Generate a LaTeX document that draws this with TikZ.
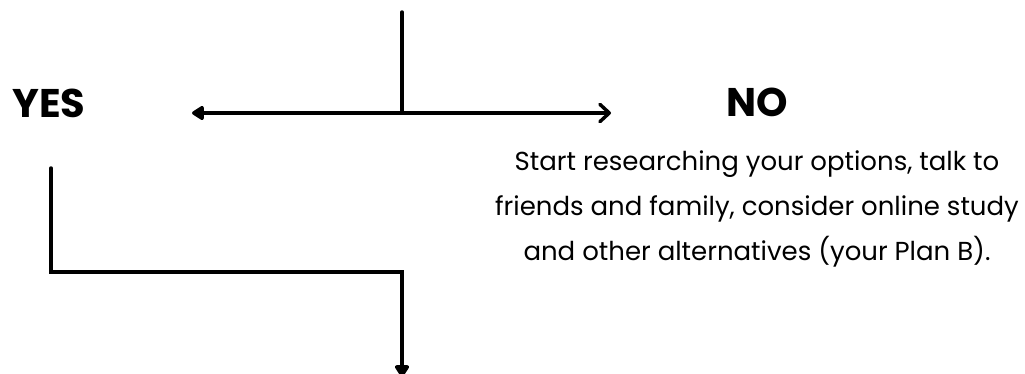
\documentclass[tikz,border=0pt]{standalone}
\usepackage{fontspec}
\setmainfont{Poppins}
\usetikzlibrary{arrows.meta}
\tikzset{
  conn/.style={line width=2.6pt, line cap=round, line join=miter},
  head/.style={font=\fontsize{30pt}{34pt}\selectfont\bfseries, inner sep=0pt},
  body/.style={font=\fontsize{19.5pt}{34pt}\selectfont, align=center, inner sep=0pt},
  filltip/.style={-{Triangle[length=10pt,width=12pt,round]}},
  opentip/.style={-{Straight Barb[length=7pt,width=13pt,round]}},
}
\begin{document}
\begin{tikzpicture}[x=0.75pt,y=-0.75pt]
\useasboundingbox (0,0) rectangle (1025,374);
\coordinate (top) at (402,12);
\coordinate (mid) at (402,113);
\coordinate (lefttip) at (192,113);
\coordinate (righttip) at (611,113);
\coordinate (yestop) at (51,168);
\coordinate (corner) at (402,272);
\coordinate (bottom) at (402,377);
\node[head, anchor=base west] (yes) at (12,118) {YES};
\node[head, anchor=base] (no) at (757,117) {NO};
\node[body, anchor=north] (desc) at (757,150) {Start researching your options, talk to\\friends and family, consider online study\\and other alternatives (your Plan B).};
\draw[conn] (top) -- (mid);
\draw[conn, filltip] (mid) -- (lefttip);
\draw[conn, opentip] (mid) -- (righttip);
\draw[conn, filltip] (yestop) |- (corner) -- (bottom);
\end{tikzpicture}
\end{document}
